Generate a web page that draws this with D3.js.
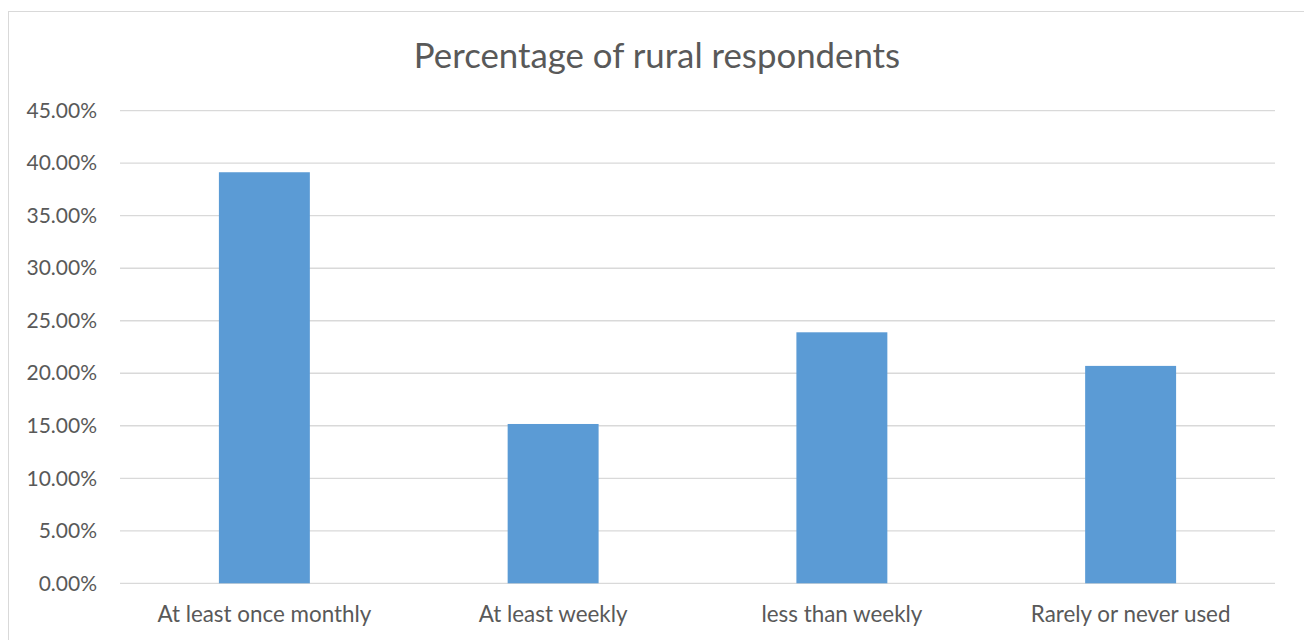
<!DOCTYPE html>
<html>
<head>
<meta charset="utf-8">
<script src="https://cdn.jsdelivr.net/npm/d3@7"></script>
<style>
  html, body { margin: 0; padding: 0; background: #fff; }
  svg { display: block; }
  text { font-family: Lato, "Open Sans", sans-serif; fill: #595959; }
</style>
</head>
<body>
<svg id="chart" width="1304" height="640"></svg>
<script>
// Share of rural respondents by usage frequency
const categories = ["At least once monthly", "At least weekly", "less than weekly", "Rarely or never used"];
const values = [0.3914, 0.1517, 0.2390, 0.2070];
const yTicks = [0, 0.05, 0.10, 0.15, 0.20, 0.25, 0.30, 0.35, 0.40, 0.45];
const titleText = "Percentage of rural respondents";

const svg = d3.select("#chart");
const W = 1304, H = 640;
const margin = { top: 110.7, right: 29, bottom: 56.7, left: 120 };
const fontFamily = "Lato, \"Open Sans\", sans-serif";

// outer chart frame
svg.append("rect")
  .attr("x", 8.5).attr("y", 11.5)
  .attr("width", W + 10).attr("height", H + 10)
  .attr("fill", "#fff").attr("stroke", "#d9d9d9").attr("stroke-width", 1);

const x = d3.scaleBand()
  .domain(categories)
  .range([margin.left, W - margin.right])
  .paddingInner(0.685).paddingOuter(0.3425);

const y = d3.scaleLinear()
  .domain([0, 0.45])
  .range([H - margin.bottom, margin.top]);

// horizontal gridlines
svg.append("g")
  .selectAll("line")
  .data(yTicks)
  .join("line")
  .attr("x1", margin.left).attr("x2", W - margin.right)
  .attr("y1", d => y(d)).attr("y2", d => y(d))
  .attr("stroke", "#d9d9d9").attr("stroke-width", 1.3);

// y axis labels
const yAxis = d3.axisLeft(y).tickValues(yTicks).tickFormat(d3.format(".2%")).tickSize(0).tickPadding(23);
const gy = svg.append("g").attr("transform", `translate(${margin.left},0)`).call(yAxis);
gy.select(".domain").remove();
gy.selectAll("text").attr("font-size", 21).style("fill", "#595959")
  .style("font-family", fontFamily);

// bars
svg.append("g")
  .selectAll("rect")
  .data(values)
  .join("rect")
  .attr("x", (d, i) => x(categories[i]))
  .attr("width", x.bandwidth())
  .attr("y", d => y(d))
  .attr("height", d => y(0) - y(d))
  .attr("fill", "#5b9bd5");

// x axis labels
const xAxis = d3.axisBottom(x).tickSize(0).tickPadding(23);
const gx = svg.append("g").attr("transform", `translate(0,${y(0)})`).call(xAxis);
gx.select(".domain").remove();
gx.selectAll("text").attr("font-size", 22.4).style("fill", "#595959")
  .style("font-family", fontFamily);

// title
svg.append("text")
  .attr("x", 657)
  .attr("y", 68)
  .attr("text-anchor", "middle")
  .attr("font-size", 34.8)
  .text(titleText);
</script>
</body>
</html>
